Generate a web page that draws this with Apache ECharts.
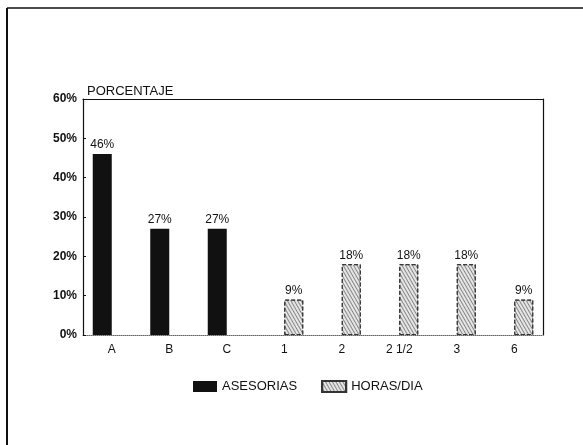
<!DOCTYPE html>
<html>
<head>
<meta charset="utf-8">
<script src="https://cdn.jsdelivr.net/npm/echarts@6/dist/echarts.min.js"></script>
<style>
  html, body { margin: 0; padding: 0; background: #fff; }
  #chart { width: 583px; height: 445px; }
</style>
</head>
<body>
<div id="chart"></div>
<script>
// categorias del eje x
var categories = ['A', 'B', 'C', '1', '2', '2 1/2', '3', '6'];
// porcentajes por serie
var asesorias = [46, 27, 27, null, null, null, null, null];
var horasDia = [null, null, null, 9, 18, 18, 18, 9];
var yTicks = [0, 10, 20, 30, 40, 50, 60];

var chart = echarts.init(document.getElementById('chart'));
var fuente = 'Liberation Sans';

var option = {
	animation: false,
	backgroundColor: '#fff',
	title: {
		text: 'PORCENTAJE',
		left: 82,
		top: 80,
		textStyle: { fontFamily: fuente, fontSize: 13, fontWeight: 'normal', color: '#111' }
	},
	grid: { left: 83, right: 40, top: 99, bottom: 110 },
	legend: {
		bottom: 47,
		left: 188,
		icon: 'rect',
		itemWidth: 24,
		itemHeight: 11,
		itemGap: 24,
		textStyle: { fontFamily: fuente, fontSize: 13, color: '#111' },
		data: ['ASESORIAS', 'HORAS/DIA']
	},
	xAxis: [{
		type: 'category',
		data: categories,
		axisLine: { lineStyle: { color: '#666', type: 'dotted', width: 1 } },
		axisTick: { show: false },
		axisLabel: { margin: 9, fontFamily: fuente, fontSize: 12, color: '#111' },
		splitLine: { show: false }
	}, {
		type: 'category',
		position: 'top',
		data: categories,
		axisLine: { show: true, onZero: false, lineStyle: { color: '#111', width: 1.2 } },
		axisTick: { show: false },
		axisLabel: { show: false }
	}],
	yAxis: [{
		type: 'value',
		min: yTicks[0],
		max: yTicks[yTicks.length - 1],
		interval: 10,
		axisLine: { show: true, lineStyle: { color: '#111', width: 1.2 } },
		axisTick: { show: true, inside: true, length: 3, lineStyle: { color: '#111' } },
		axisLabel: {
			margin: 6, formatter: '{value}%',
			fontFamily: fuente, fontSize: 12, fontWeight: 'bold', color: '#111'
		},
		splitLine: { show: false }
	}, {
		type: 'value',
		position: 'right',
		min: 0,
		max: 60,
		interval: 10,
		axisLine: { show: true, lineStyle: { color: '#111', width: 1.2 } },
		axisTick: { show: false },
		axisLabel: { show: false },
		splitLine: { show: false }
	}],
	graphic: [
		{ type: 'line', shape: { x1: 7, y1: 8, x2: 583, y2: 8 }, style: { stroke: '#111', lineWidth: 1.5 } },
		{ type: 'line', shape: { x1: 7, y1: 8, x2: 7, y2: 445 }, style: { stroke: '#111', lineWidth: 2 } }
	],
	series: [{
		name: 'ASESORIAS',
		type: 'bar',
		data: asesorias,
		barWidth: 19,
		barGap: '0%',
		itemStyle: { color: '#111' },
		label: {
			show: true, position: 'top', distance: 3,
			formatter: '{c}%', fontFamily: fuente, fontSize: 12, color: '#111'
		}
	}, {
		name: 'HORAS/DIA',
		type: 'bar',
		data: horasDia,
		barWidth: 19,
		itemStyle: {
			color: '#e6e6e6',
			borderColor: '#333',
			borderWidth: 1,
			borderType: 'dashed',
			decal: {
				symbol: 'rect',
				color: 'rgba(40,40,40,0.5)',
				dashArrayX: [1, 0],
				dashArrayY: [1, 2],
				rotation: Math.PI / 3
			}
		},
		label: {
			show: true, position: 'top', distance: 3,
			formatter: '{c}%', fontFamily: fuente, fontSize: 12, color: '#111'
		}
	}]
};
chart.setOption(option);
</script>
</body>
</html>
